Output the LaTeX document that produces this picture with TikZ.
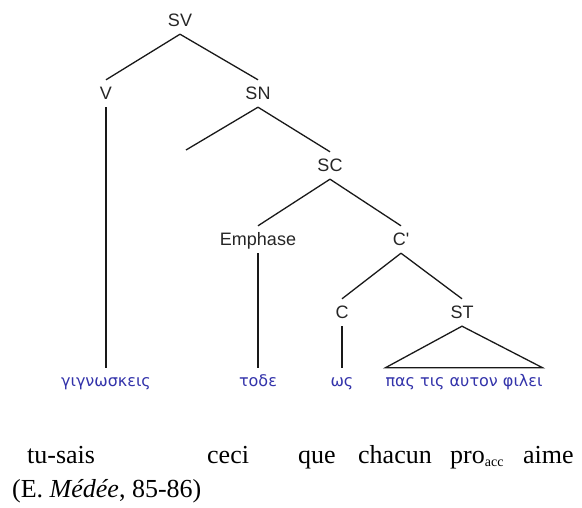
\documentclass[tikz,border=0pt]{standalone}
\usepackage{fontspec}
\setmainfont{Liberation Serif}
\newfontfamily\arialfont{Liberation Sans}
\newfontfamily\grfont{DejaVu Sans}
\usepackage{tikz}
\definecolor{grblue}{RGB}{51,51,170}

\begin{document}
\begin{tikzpicture}[x=1pt,y=-1pt]
\tikzset{
	cat/.style={anchor=base, font=\arialfont\fontsize{18}{20}\selectfont, text=black!85, text height=13pt, text depth=0pt, inner xsep=2pt, inner ysep=7pt},
	gr/.style={anchor=base, font=\grfont\fontsize{16}{20}\selectfont, text=grblue, text height=12pt, text depth=4pt, inner xsep=0pt, inner ysep=7pt},
	gl/.style={anchor=base west, font=\fontsize{26}{30}\selectfont, inner sep=0pt},
	br/.style={line width=1.3pt, black!90}
}
\useasboundingbox (0,0) rectangle (582,508);

% categories
\node[cat] (sv) at (180,27) {SV};
\node[cat] (v) at (106,100) {V};
\node[cat] (sn) at (258,100) {SN};
\coordinate (sn_l) at (186,150);
\node[cat] (sc) at (330,172) {SC};
\node[cat] (emph) at (258,246) {Emphase};
\node[cat] (cp) at (401,246) {C'};
\node[cat] (c) at (342,319) {C};
\node[cat] (st) at (462,319) {ST};

% grec
\node[gr] (g_1) at (106,387) {γιγνωσκεις};
\node[gr] (g_2) at (258,387) {τοδε};
\node[gr] (g_3) at (342,387) {ως};
\node[gr] (g_4) at (464,387) {πας τις αυτον φιλει};

% branches
\draw[br] (sv.south) -- (v.north);
\draw[br] (sv.south) -- (sn.north);
\draw[br] (sn.south) -- (sn_l);
\draw[br] (sn.south) -- (sc.north);
\draw[br] (sc.south) -- (emph.north);
\draw[br] (sc.south) -- (cp.north);
\draw[br] (cp.south) -- (c.north);
\draw[br] (cp.south) -- (st.north);

% feuilles
\draw[br] (v.south) -- (g_1.north);
\draw[br] (emph.south) -- (g_2.north);
\draw[br] (c.south) -- (g_3.north);
\draw[br] (st.south) -- (g_4.north west) -- (g_4.north east) -- cycle;

% traduction
\node[gl] (t_1) at (27,463) {tu-sais};
\node[gl] (t_2) at (207,463) {ceci};
\node[gl] (t_3) at (298,463) {que};
\node[gl] (t_4) at (358,463) {chacun};
\node[gl] (t_5) at (450,463) {pro\raisebox{-3pt}{\fontsize{14}{16}\selectfont acc}};
\node[gl] (t_6) at (523,463) {aime};
\node[gl] (src) at (12,497) {(E. \textit{Médée}, 85-86)};

\end{tikzpicture}
\end{document}
